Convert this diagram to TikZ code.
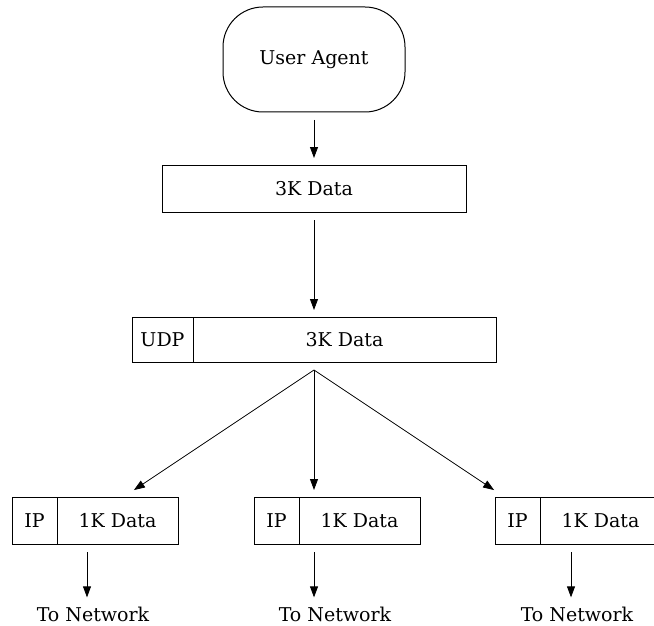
\documentclass[tikz,border=0pt]{standalone}
\usepackage{fontspec}
\setmainfont{DejaVu Serif}
\usepackage{tikz}
\usetikzlibrary{shapes}
\usetikzlibrary{arrows.meta}
\usetikzlibrary{fit}
\usetikzlibrary{calc}
\usetikzlibrary{positioning}
\tikzset{node distance=0pt, auto, every text node part/.style={align=center, font={\fontsize{19}{23}\selectfont}}}
\tikzstyle{block} = [draw, fill=white, line width=1pt, minimum height=47pt, inner sep=0pt, outer sep=0pt]
\tikzstyle{hdr} = [block, minimum width=45pt]
\tikzstyle{payload} = [block, minimum width=121pt]
\tikzstyle{grp} = [inner sep=0pt, outer sep=0pt]
\tikzstyle{ln} = [draw, line width=0.8pt, -{Triangle[length=11pt, width=8pt]}, shorten <=8pt, shorten >=7pt]
\tikzstyle{net} = [anchor=base, inner sep=2pt]

\begin{document}
\begin{tikzpicture}[x=1pt, y=-1pt]
  \useasboundingbox (0,0) rectangle (654,626);
  \node[block, rounded corners=40pt, minimum width=182pt, minimum height=105pt] (ua) at (314,59.5) {User Agent};
  \node[block, minimum width=304pt] (data3k) at (314,188.5) {3K Data};
  % udp packet
  \node[block, minimum width=61pt, minimum height=45pt, anchor=west] (udp) at (132,339.5) {UDP};
  \node[block, minimum width=303pt, minimum height=45pt, right=of udp] (udpd) {3K Data};
  \node[grp, fit=(udp)(udpd)] (udpg) {};
  \coordinate (split) at ([yshift=-8pt]udpg.south);
  % ip packets
  \node[hdr, anchor=west] (ip1) at (12,520.5) {IP};
  \node[payload, right=of ip1] (d1) {1K Data};
  \node[grp, fit=(ip1)(d1)] (pkt1) {};
  \node[hdr, anchor=west] (ip2) at (254,520.5) {IP};
  \node[payload, right=of ip2] (d2) {1K Data};
  \node[grp, fit=(ip2)(d2)] (pkt2) {};
  \node[hdr, anchor=west] (ip3) at (495,520.5) {IP};
  \node[payload, right=of ip3] (d3) {1K Data};
  \node[grp, fit=(ip3)(d3)] (pkt3) {};
  \node[net] (net1) at (93,621) {To Network};
  \node[net] (net2) at (335,621) {To Network};
  \node[net] (net3) at (577,621) {To Network};
  \draw[ln] (ua) -- (data3k);
  \draw[ln] (data3k) -- (udpg);
  \draw[ln, shorten <=0pt, shorten >=12.5pt] (split) -- ([xshift=6pt]d1.north);
  \draw[ln, shorten <=0pt] (split) -- (split |- pkt2.north);
  \draw[ln, shorten <=0pt, shorten >=12.5pt] (split) -- ([xshift=-13pt]ip3.north);
  \draw[ln] ([xshift=-30.5pt]d1.south) -- ([xshift=-30.5pt]d1.south |- net1.north);
  \draw[ln] ([xshift=-45.5pt]d2.south) -- ([xshift=-45.5pt]d2.south |- net2.north);
  \draw[ln] ([xshift=-29.5pt]d3.south) -- ([xshift=-29.5pt]d3.south |- net3.north);
\end{tikzpicture}
\end{document}
